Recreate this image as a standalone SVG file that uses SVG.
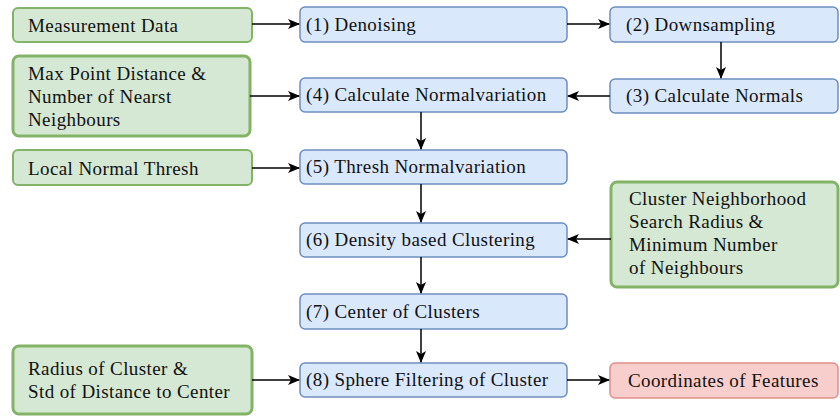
<svg xmlns="http://www.w3.org/2000/svg" width="840" height="416" viewBox="0 0 840 416">
<defs>
<marker id="ah" viewBox="0 0 12 10" refX="11" refY="5" markerWidth="12" markerHeight="10" markerUnits="userSpaceOnUse" orient="auto">
<path d="M0,0 L12,5 L0,10 L3,5 Z" fill="#000"/>
</marker>
<style>
.g{fill:#d5e8d4;stroke:#82b366;stroke-width:2}
.gt{fill:#d5e8d4;stroke:#82b366;stroke-width:3}
.b{fill:#dae8fc;stroke:#6c8ebf;stroke-width:1.5}
.r{fill:#f8cecc;stroke:#e08f8c;stroke-width:1.5}
text{font-family:"Liberation Serif","Times New Roman",serif;font-size:19px;letter-spacing:0.4px;fill:#111}
.c line{stroke:#000;stroke-width:1.5;marker-end:url(#ah)}
</style>
</defs>
<g id="measurement"><rect class="g" x="13" y="8" width="239" height="34" rx="5"/><text x="28" y="32">Measurement Data</text></g>
<g id="maxpoint"><rect class="gt" x="13" y="56" width="237" height="80" rx="6"/><text x="28" y="80">Max Point Distance &amp;</text><text x="28" y="103">Number of Nearst</text><text x="28" y="126">Neighbours</text></g>
<g id="localthresh"><rect class="g" x="13" y="150" width="239" height="35" rx="5"/><text x="28" y="175">Local Normal Thresh</text></g>
<g id="radius"><rect class="gt" x="13" y="346" width="239" height="68" rx="6"/><text x="28" y="375">Radius of Cluster &amp;</text><text x="28" y="398">Std of Distance to Center</text></g>
<g id="cluster-params"><rect class="gt" x="611" y="182" width="227" height="105" rx="6"/><text x="629" y="205">Cluster Neighborhood</text><text x="629" y="228">Search Radius &amp;</text><text x="629" y="251">Minimum Number</text><text x="629" y="274">of Neighbours</text></g>
<g id="s1"><rect class="b" x="300" y="7" width="267" height="35" rx="5"/><text x="306" y="31">(1) Denoising</text></g>
<g id="s2"><rect class="b" x="610" y="7" width="228" height="35" rx="5"/><text x="626" y="31">(2) Downsampling</text></g>
<g id="s3"><rect class="b" x="610" y="79" width="228" height="34" rx="5"/><text x="626" y="102">(3) Calculate Normals</text></g>
<g id="s4"><rect class="b" x="300" y="78" width="267" height="34" rx="5"/><text x="306" y="101">(4) Calculate Normalvariation</text></g>
<g id="s5"><rect class="b" x="300" y="150" width="267" height="34" rx="5"/><text x="306" y="173">(5) Thresh Normalvariation</text></g>
<g id="s6"><rect class="b" x="300" y="223" width="267" height="34" rx="5"/><text x="306" y="246">(6) Density based Clustering</text></g>
<g id="s7"><rect class="b" x="300" y="294" width="267" height="35" rx="5"/><text x="306" y="318">(7) Center of Clusters</text></g>
<g id="s8"><rect class="b" x="300" y="363" width="267" height="34" rx="5"/><text x="306" y="386">(8) Sphere Filtering of Cluster</text></g>
<g id="result"><rect class="r" x="610" y="363" width="228" height="35" rx="5"/><text x="628" y="387">Coordinates of Features</text></g>
<g class="c" id="connectors">
<line x1="252" y1="24" x2="299" y2="24"/>
<line x1="567" y1="24" x2="609" y2="24"/>
<line x1="721" y1="42" x2="721" y2="78"/>
<line x1="610" y1="96" x2="568" y2="96"/>
<line x1="250" y1="96" x2="299" y2="96"/>
<line x1="421" y1="112" x2="421" y2="149"/>
<line x1="252" y1="168" x2="299" y2="168"/>
<line x1="421" y1="184" x2="421" y2="222"/>
<line x1="611" y1="239" x2="568" y2="239"/>
<line x1="421" y1="257" x2="421" y2="293"/>
<line x1="421" y1="329" x2="421" y2="362"/>
<line x1="252" y1="380" x2="299" y2="380"/>
<line x1="567" y1="380" x2="609" y2="380"/>
</g>
</svg>
